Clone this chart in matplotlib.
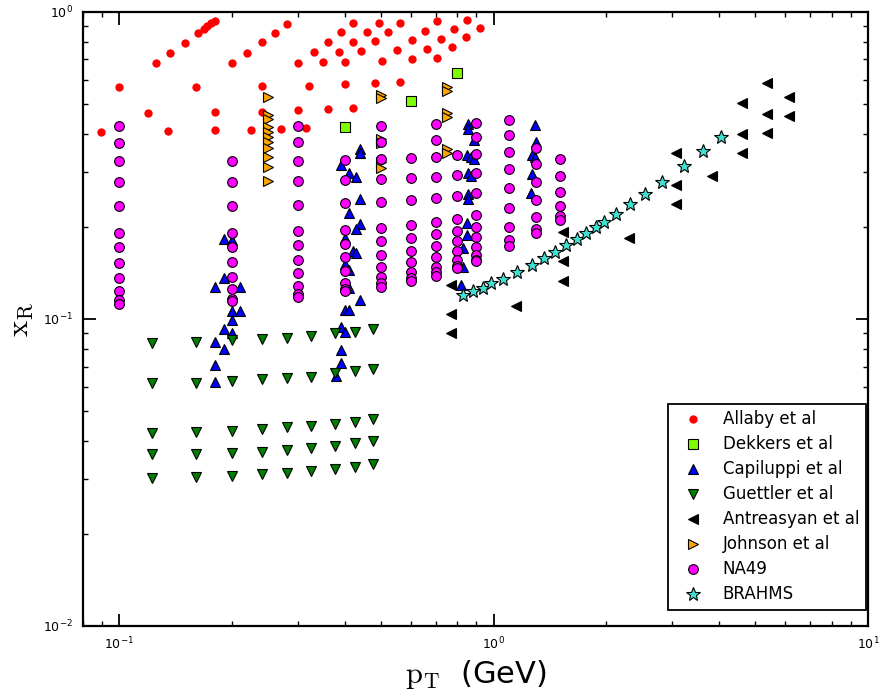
import numpy as np
import matplotlib
matplotlib.use('Agg')
import matplotlib.pyplot as plt

plt.rcParams['mathtext.fontset'] = 'cm'
plt.rcParams['font.family'] = 'DejaVu Sans'

# Allaby et al
allaby_pt = [0.0895, 0.100, 0.119, 0.125, 0.135, 0.137, 0.150, 0.160, 0.162, 0.168,
             0.172, 0.176, 0.180, 0.180, 0.180, 0.200, 0.220, 0.225, 0.240, 0.240,
             0.240, 0.260, 0.271, 0.281, 0.300, 0.300, 0.331, 0.362, 0.392, 0.422,
             0.351, 0.387, 0.422, 0.458, 0.493, 0.401, 0.442, 0.483, 0.523, 0.562,
             0.503, 0.552, 0.604, 0.655, 0.705, 0.604, 0.664, 0.725, 0.786, 0.847,
             0.705, 0.774, 0.846, 0.918, 0.322, 0.401, 0.483, 0.562, 0.362, 0.422,
             0.316]
allaby_xr = [0.407, 0.569, 0.469, 0.681, 0.409, 0.737, 0.794, 0.571, 0.852, 0.880,
             0.900, 0.921, 0.935, 0.471, 0.411, 0.681, 0.737, 0.414, 0.797, 0.573,
             0.473, 0.856, 0.417, 0.914, 0.684, 0.478, 0.741, 0.798, 0.859, 0.919,
             0.686, 0.742, 0.800, 0.861, 0.921, 0.688, 0.746, 0.803, 0.863, 0.923,
             0.694, 0.752, 0.811, 0.869, 0.933, 0.701, 0.759, 0.818, 0.878, 0.942,
             0.708, 0.767, 0.831, 0.889, 0.575, 0.581, 0.587, 0.593, 0.482, 0.486,
             0.420]

# Dekkers et al
dekkers_pt = [0.40, 0.60, 0.80]
dekkers_xr = [0.421, 0.513, 0.631]

# Capiluppi et al
capiluppi_pt = [0.19, 0.20, 0.19, 0.18, 0.21, 0.20, 0.21, 0.20, 0.19, 0.20, 0.18, 0.19, 0.18, 0.18,
                0.44, 0.44, 0.39, 0.41, 0.43, 0.44, 0.41, 0.44, 0.43, 0.40, 0.42, 0.43, 0.40,
                0.41, 0.41, 0.44, 0.40, 0.41, 0.39, 0.40, 0.39, 0.39, 0.38,
                0.856, 0.856, 0.888, 0.847, 0.870, 0.888, 0.856, 0.870, 0.856, 0.856, 0.850,
                0.847, 0.830, 0.830, 0.818,
                1.29, 1.30, 1.27, 1.29, 1.27, 1.26]
capiluppi_xr = [0.182, 0.181, 0.136, 0.127, 0.127, 0.106, 0.106, 0.099, 0.0925, 0.090, 0.084, 0.080, 0.071, 0.0625,
                0.357, 0.347, 0.317, 0.298, 0.289, 0.245, 0.221, 0.204, 0.196, 0.184, 0.166, 0.164, 0.151,
                0.144, 0.126, 0.115, 0.107, 0.107, 0.094, 0.091, 0.079, 0.072, 0.065,
                0.430, 0.416, 0.382, 0.343, 0.338, 0.331, 0.299, 0.292, 0.255, 0.246, 0.205,
                0.187, 0.170, 0.148, 0.129,
                0.427, 0.377, 0.342, 0.337, 0.297, 0.257]

# Guettler et al
guettler_pt = [0.122, 0.16, 0.20, 0.24, 0.28, 0.325, 0.376, 0.425, 0.476]
guettler_rows = [
    [0.0837, 0.0844, 0.0854, 0.0859, 0.0869, 0.0882, 0.0898, 0.0909, 0.0930],
    [0.0617, 0.0620, 0.0628, 0.0636, 0.0641, 0.0649, 0.0665, 0.0676, 0.0687],
    [0.0426, 0.0428, 0.0432, 0.0437, 0.0444, 0.0448, 0.0455, 0.0463, 0.0473],
    [0.0363, 0.0363, 0.0366, 0.0370, 0.0374, 0.0379, 0.0387, 0.0394, 0.0401],
    [0.0303, 0.0305, 0.0308, 0.0312, 0.0316, 0.0320, 0.0325, 0.0330, 0.0338],
]

# Antreasyan et al
antreasyan_pt = [0.77, 0.77, 0.77, 1.15, 1.53, 1.53, 1.53, 2.30, 3.07, 3.07, 3.07, 3.84,
                 4.61, 4.61, 4.61, 5.38, 5.38, 5.38, 6.15, 6.15]
antreasyan_xr = [0.129, 0.104, 0.090, 0.110, 0.1925, 0.154, 0.133, 0.184, 0.347, 0.273, 0.237, 0.292,
                 0.504, 0.400, 0.347, 0.586, 0.464, 0.403, 0.527, 0.458]

# Johnson et al
johnson_pt = [0.25] * 11 + [0.50] * 6 + [0.75] * 6
johnson_xr = [0.530, 0.462, 0.448, 0.423, 0.407, 0.392, 0.377, 0.360, 0.338, 0.313, 0.282,
              0.537, 0.523, 0.386, 0.373, 0.325, 0.310,
              0.569, 0.554, 0.468, 0.455, 0.358, 0.346]

# NA49
na49_pt = [0.1, 0.2, 0.3, 0.4, 0.5, 0.6, 0.7, 0.8, 0.9, 1.1, 1.3, 1.5]
na49_xr = [
    [0.425, 0.375, 0.326, 0.280, 0.233, 0.190, 0.171, 0.152, 0.136, 0.123, 0.115, 0.112],
    [0.326, 0.280, 0.233, 0.191, 0.171, 0.153, 0.137, 0.125, 0.116, 0.114],
    [0.425, 0.377, 0.328, 0.281, 0.235, 0.193, 0.174, 0.156, 0.141, 0.128, 0.121, 0.118],
    [0.330, 0.284, 0.239, 0.195, 0.176, 0.159, 0.143, 0.131, 0.125, 0.123],
    [0.426, 0.378, 0.331, 0.285, 0.241, 0.198, 0.180, 0.162, 0.148, 0.137, 0.131, 0.127],
    [0.334, 0.287, 0.244, 0.202, 0.184, 0.167, 0.153, 0.142, 0.136, 0.133],
    [0.432, 0.383, 0.336, 0.291, 0.247, 0.207, 0.189, 0.173, 0.159, 0.148, 0.142, 0.138],
    [0.342, 0.295, 0.252, 0.212, 0.194, 0.179, 0.166, 0.156, 0.149, 0.147],
    [0.436, 0.390, 0.344, 0.298, 0.257, 0.218, 0.200, 0.185, 0.172, 0.162, 0.156, 0.154],
    [0.443, 0.397, 0.351, 0.307, 0.267, 0.229, 0.200, 0.181, 0.173],
    [0.360, 0.319, 0.279, 0.244, 0.215, 0.197, 0.190],
    [0.331, 0.292, 0.260, 0.233, 0.217, 0.210],
]

# BRAHMS
brahms_pt = [0.830, 0.883, 0.935, 0.984, 1.057, 1.157, 1.263, 1.362, 1.463, 1.565, 1.670,
             1.770, 1.874, 1.973, 2.128, 2.319, 2.532, 2.818, 3.225, 3.631, 4.055]
brahms_xr = [0.1197, 0.1234, 0.1265, 0.1307, 0.135, 0.1426, 0.150, 0.1584, 0.1657, 0.1742, 0.1822,
             0.1902, 0.1986, 0.2074, 0.2198, 0.2369, 0.2554, 0.2801, 0.3157, 0.3533, 0.3906]

# flatten the grids
g_x = guettler_pt * len(guettler_rows)
g_y = [v for row in guettler_rows for v in row]
n_x = [pt for pt, col in zip(na49_pt, na49_xr) for _ in col]
n_y = [v for col in na49_xr for v in col]

fig = plt.figure(figsize=(8.82, 6.98), dpi=100)
ax = fig.add_axes([0.0941, 0.1032, 0.890, 0.8797])

ax.plot(allaby_pt, allaby_xr, ls='none', marker='o', ms=6, color='red', mew=0, label='Allaby et al')
ax.plot(dekkers_pt, dekkers_xr, ls='none', marker='s', ms=7, mfc='#7fff00', mec='black', mew=0.8, label='Dekkers et al')
ax.plot(capiluppi_pt, capiluppi_xr, ls='none', marker='^', ms=7, mfc='blue', mec='black', mew=0.8, label='Capiluppi et al')
ax.plot(g_x, g_y, ls='none', marker='v', ms=7, mfc='green', mec='black', mew=0.8, label='Guettler et al')
ax.plot(antreasyan_pt, antreasyan_xr, ls='none', marker='<', ms=7, mfc='black', mec='black', mew=0.8, label='Antreasyan et al')
ax.plot(johnson_pt, johnson_xr, ls='none', marker='>', ms=7, mfc='orange', mec='black', mew=0.8, label='Johnson et al')
ax.plot(n_x, n_y, ls='none', marker='o', ms=7, mfc='magenta', mec='black', mew=0.8, label='NA49')
ax.plot(brahms_pt, brahms_xr, ls='none', marker='*', ms=10, mfc='turquoise', mec='black', mew=0.8, label='BRAHMS')

ax.set_xscale('log')
ax.set_yscale('log')
ax.set_xlim(0.08, 10)
ax.set_ylim(0.01, 1)

for s in ax.spines.values():
    s.set_linewidth(1.6)
ax.tick_params(which='both', direction='in', top=True, right=True, labelsize=9)
ax.tick_params(which='major', length=9, width=1.3, pad=7)
ax.tick_params(which='minor', length=3.5, width=1)

ax.set_xlabel(r'$\mathrm{p_T}$  (GeV)', fontsize=22)
ax.set_ylabel(r'$\mathrm{x_R}$', fontsize=22, labelpad=6)

leg = ax.legend(loc='lower right', bbox_to_anchor=(0.9975, 0.026), borderaxespad=0,
                numpoints=1, fontsize=12, labelspacing=0.42, borderpad=0.4,
                handlelength=2.2, handletextpad=0.7,
                fancybox=False, framealpha=1, edgecolor='black')
leg.get_frame().set_linewidth(1.3)

fig.savefig('out.png', dpi=100)
